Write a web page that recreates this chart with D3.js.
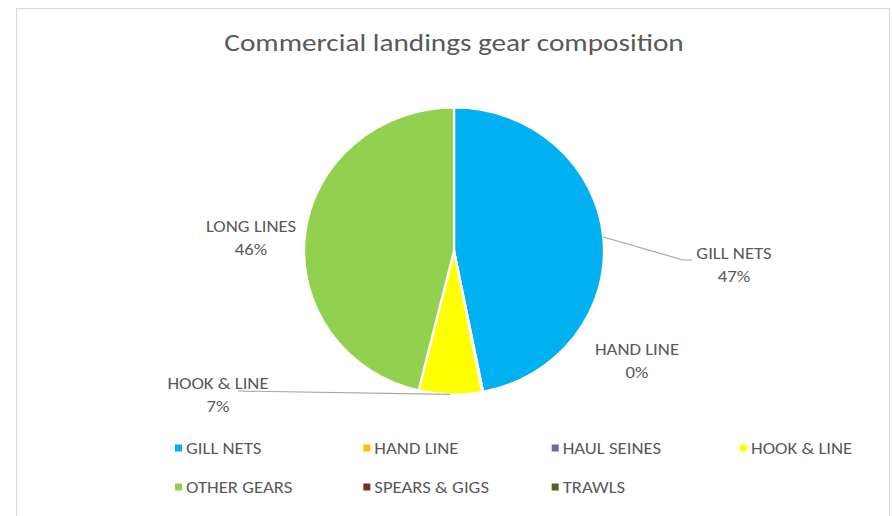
<!DOCTYPE html>
<html>
<head>
<meta charset="utf-8">
<script src="https://cdn.jsdelivr.net/npm/d3@7"></script>
<style>
  html, body { margin: 0; padding: 0; background: #ffffff; }
  svg { display: block; }
  text { font-family: Carlito, Calibri, Lato, "Open Sans", sans-serif; fill: #595959; }
</style>
</head>
<body>
<svg id="chart" width="892" height="516"></svg>
<script>
// Gear categories, in legend order
const categories = ["GILL NETS", "HAND LINE", "HAUL SEINES", "HOOK & LINE", "OTHER GEARS", "SPEARS & GIGS", "TRAWLS"];
// Share of commercial landings (%)
const shares = [46.9, 0.1, 0, 6.8, 46.2, 0, 0];
// Text printed on each slice's data label
const sliceLabels = ["GILL NETS", "HAND LINE", "HAUL SEINES", "HOOK & LINE", "LONG LINES", "SPEARS & GIGS", "TRAWLS"];
// Slice colours
const colors = ["#00B0F0", "#FFC000", "#8064A2", "#FFFF00", "#92D050", "#7B2C2A", "#4F6228"];

const title = "Commercial landings gear composition";

const W = 892, H = 516;
const textStretch = 1.17;   // widen glyphs horizontally
const svg = d3.select("#chart");

// place a text element at (x, y) with the horizontal stretch applied
function putText(sel, x, y) {
  return sel.attr("transform", `translate(${x},${y}) scale(${textStretch},1)`);
}

// chart frame
svg.append("rect")
  .attr("x", 16.5).attr("y", 8.5)
  .attr("width", 873).attr("height", H + 10)
  .attr("fill", "#ffffff").attr("stroke", "#d9d9d9").attr("stroke-width", 1);

putText(svg.append("text"), 454, 51)
  .attr("text-anchor", "middle")
  .style("font-size", "25px")
  .text(title);

// pie geometry (the plot area is slightly wider than tall)
const cx = 454, cy = 251, ry = 143.5, rx = 150;
const sx = rx / ry;

const data = categories.map((c, i) => ({ name: c, label: sliceLabels[i], value: shares[i], color: colors[i] }));
const total = d3.sum(shares);

const pie = d3.pie().value(d => d.value).sort(null);
const arcs = pie(data);
const arc = d3.arc().innerRadius(0).outerRadius(ry);

const pieG = svg.append("g")
  .attr("transform", `translate(${cx},${cy}) scale(${sx},1)`);

pieG.selectAll("path")
  .data(arcs.filter(a => a.data.value > 0))
  .join("path")
  .attr("d", arc)
  .attr("fill", d => d.data.color)
  .attr("stroke", "#ffffff")
  .attr("stroke-width", 2.2)
  .attr("stroke-linejoin", "round");

// point on the pie rim at a slice's middle angle
function rimPoint(a) {
  const m = (a.startAngle + a.endAngle) / 2;
  return [cx + rx * Math.sin(m), cy - ry * Math.cos(m)];
}

// data label placement, relative to the pie centre
const labelPlacement = {
  "GILL NETS":   { dx: 280, dy: 8,   leader: [[229, 9], [238, 9]] },
  "HAND LINE":   { dx: 183, dy: 104, leader: null },
  "HOOK & LINE": { dx: -236, dy: 138, leader: [[-216, 140]] },
  "LONG LINES":  { dx: -203, dy: -19, leader: null }
};

const labelG = svg.append("g");
arcs.forEach(a => {
  const p = labelPlacement[a.data.label];
  if (!p) return;
  const pct = Math.round(a.data.value / total * 100) + "%";
  if (p.leader) {
    const pts = [rimPoint(a)].concat(p.leader.map(q => [cx + q[0], cy + q[1]]));
    labelG.append("path")
      .attr("d", d3.line()(pts))
      .attr("fill", "none")
      .attr("stroke", "#a6a6a6")
      .attr("stroke-width", 1.2);
  }
  putText(labelG.append("text"), cx + p.dx, cy + p.dy)
    .attr("text-anchor", "middle")
    .style("font-size", "16px")
    .text(a.data.label);
  putText(labelG.append("text"), cx + p.dx, cy + p.dy + 23)
    .attr("text-anchor", "middle")
    .style("font-size", "16px")
    .text(pct);
});

// legend: four entries per row
const legendX = d3.scalePoint().domain([0, 1, 2, 3]).range([175, 740]);
const legendY = d3.scalePoint().domain([0, 1]).range([448, 487]);
const leg = svg.append("g").selectAll("g")
  .data(data)
  .join("g")
  .attr("transform", (d, i) => `translate(${legendX(i % 4)},${legendY(Math.floor(i / 4))})`);
leg.append("rect")
  .attr("x", 0).attr("y", -3.5)
  .attr("width", 7).attr("height", 7)
  .attr("fill", d => d.color);
leg.append("text")
  .attr("transform", `translate(11,5.5) scale(${textStretch},1)`)
  .style("font-size", "16px")
  .text(d => d.name);
</script>
</body>
</html>
